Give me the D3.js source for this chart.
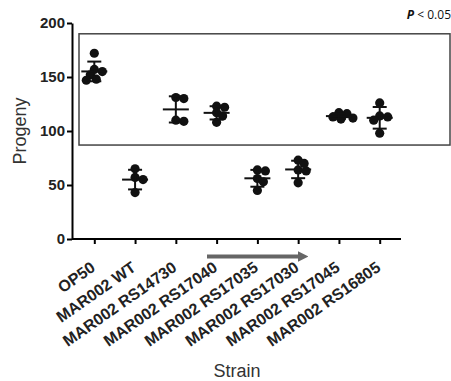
<!DOCTYPE html>
<html><head><meta charset="utf-8">
<script src="https://cdn.jsdelivr.net/npm/d3@7"></script>
<style>body{margin:0;background:#fff}svg{display:block}</style>
</head><body>
<script>
const categories = ["OP50","MAR002 WT","MAR002 RS14730","MAR002 RS17040","MAR002 RS17035","MAR002 RS17030","MAR002 RS17045","MAR002 RS16805"];
const op50 = [172,157,155,148,147,152];
const wt = [65,55,57,43];
const rs14730 = [131,130,109,110];
const rs17040 = [123,122,117,114,108];
const rs17035 = [64,63,56,53,45];
const rs17030 = [73,70,64,63,52];
const rs17045 = [117,116,112,111,113];
const rs16805 = [126,114,113,110,98];
const seriesValues = [op50,wt,rs14730,rs17040,rs17035,rs17030,rs17045,rs16805];
const yTicks = [0,50,100,150,200];
const yTitle = "Progeny", xTitle = "Strain";

const W = 451, H = 381;
const svg = d3.select("body").append("svg").attr("width",W).attr("height",H);
const x = d3.scalePoint().domain(categories).range([94.3,379.7]);
const y = d3.scaleLinear().domain([0,200]).range([239,23]);

// significance box
svg.append("rect").attr("x",79).attr("y",y(190)).attr("width",371)
  .attr("height",y(87)-y(190)).attr("fill","none").attr("stroke","#444").attr("stroke-width",1.5);
svg.append("text").attr("x",451).attr("y",19).attr("text-anchor","end")
  .attr("font-family","'Open Sans', 'Liberation Sans', sans-serif").attr("font-size",12).attr("fill","#111")
  .html('<tspan font-style="italic" font-weight="bold">P</tspan> &lt; 0.05');

// axes
const yAxis = svg.append("g").attr("transform","translate(72,0)")
  .call(d3.axisLeft(y).tickValues(yTicks).tickSize(5).tickSizeOuter(0));
const xAxis = svg.append("g").attr("transform","translate(0,239)")
  .call(d3.axisBottom(x).tickSize(5).tickSizeOuter(0).tickFormat(""));
xAxis.select(".domain").attr("d","M72,0H401");
[yAxis,xAxis].forEach(g=>{
  g.selectAll("path,line").attr("stroke","#000").attr("stroke-width",2);
});
yAxis.selectAll("text").attr("font-family","'Liberation Sans',Arial,sans-serif")
  .attr("font-size",15).attr("font-weight","bold").attr("fill","#222").attr("x",-7);

// category labels
svg.append("g").selectAll("text").data(categories).join("text")
  .attr("transform",d=>`translate(${x(d)+2},${270}) rotate(-35)`)
  .attr("text-anchor","end")
  .attr("font-family","'Liberation Sans',Arial,sans-serif").attr("font-size",16).attr("font-weight","bold")
  .attr("fill","#222").text(d=>d);

// titles
svg.append("text").attr("transform","translate(26,131) rotate(-90)").attr("text-anchor","middle")
  .attr("font-family","'Liberation Sans',Arial,sans-serif").attr("font-size",18).attr("fill","#333").text(yTitle);
svg.append("text").attr("x",237).attr("y",377).attr("text-anchor","middle")
  .attr("font-family","'Liberation Sans',Arial,sans-serif").attr("font-size",18).attr("fill","#333").text(xTitle);

// arrow
const defs = svg.append("defs");
defs.append("marker").attr("id","ah").attr("viewBox","0 0 10 10").attr("refX",0).attr("refY",5)
  .attr("markerWidth",2.6).attr("markerHeight",2.6).attr("orient","auto").attr("markerUnits","strokeWidth")
  .append("path").attr("d","M0,0L10,5L0,10Z").attr("fill","#666");
svg.append("line").attr("x1",207).attr("x2",298).attr("y1",256.5).attr("y2",256.5)
  .attr("stroke","#666").attr("stroke-width",4).attr("marker-end","url(#ah)");

// points (simple swarm layout)
const r = 4.6;
const gPts = svg.append("g");
categories.forEach((c,i)=>{
  const vals = seriesValues[i];
  const placed = [];
  vals.map(v=>({v,py:y(v)})).sort((a,b)=>a.py-b.py).forEach(p=>{
    const cands=[0];
    for(let k=1;k<8;k++){cands.push(k*2,-k*2);}
    let off=0;
    for(const o of cands){
      if(placed.every(q=>Math.hypot(q.ox-o,q.py-p.py)>=2*r*0.7)){off=o;break;}
    }
    p.ox=off; placed.push(p);
  });
  gPts.selectAll(null).data(placed).join("circle")
    .attr("cx",d=>x(c)+d.ox).attr("cy",d=>d.py).attr("r",r).attr("fill","#111");
  const m = d3.mean(vals), s = d3.deviation(vals);
  const g = svg.append("g").attr("stroke","#111").attr("stroke-width",2);
  g.append("line").attr("x1",x(c)-13).attr("x2",x(c)+13).attr("y1",y(m)).attr("y2",y(m));
  g.append("line").attr("x1",x(c)).attr("x2",x(c)).attr("y1",y(m-s)).attr("y2",y(m+s));
  g.append("line").attr("x1",x(c)-7).attr("x2",x(c)+7).attr("y1",y(m-s)).attr("y2",y(m-s));
  g.append("line").attr("x1",x(c)-7).attr("x2",x(c)+7).attr("y1",y(m+s)).attr("y2",y(m+s));
});
</script>
</body></html>
